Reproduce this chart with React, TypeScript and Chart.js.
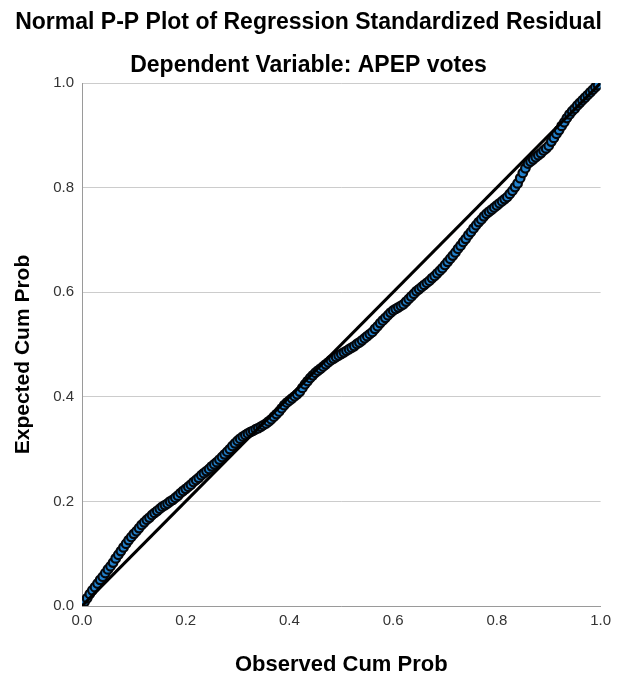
import React, { useEffect, useRef } from "react";
import { Chart, registerables } from "chart.js";

Chart.register(...registerables);

const chartTitle = "Normal P-P Plot of Regression Standardized Residual";
const chartSubtitle = "Dependent Variable: APEP votes";
const xAxisTitle = "Observed Cum Prob";
const yAxisTitle = "Expected Cum Prob";
const axisMin = 0;
const axisMax = 1;
const axisStep = 0.2;

const observedCumProb = [
  0.005, 0.010, 0.015, 0.020, 0.025, 0.030, 0.035, 0.040, 0.045, 0.050,
  0.055, 0.060, 0.065, 0.070, 0.075, 0.080, 0.085, 0.090, 0.095, 0.100,
  0.105, 0.110, 0.115, 0.120, 0.125, 0.130, 0.135, 0.140, 0.145, 0.150,
  0.155, 0.160, 0.165, 0.170, 0.175, 0.180, 0.185, 0.190, 0.195, 0.200,
  0.205, 0.210, 0.215, 0.220, 0.225, 0.230, 0.235, 0.240, 0.245, 0.250,
  0.255, 0.260, 0.265, 0.270, 0.275, 0.280, 0.285, 0.290, 0.295, 0.300,
  0.305, 0.310, 0.315, 0.320, 0.325, 0.330, 0.335, 0.340, 0.345, 0.350,
  0.355, 0.360, 0.365, 0.370, 0.375, 0.380, 0.385, 0.390, 0.395, 0.400,
  0.405, 0.410, 0.415, 0.420, 0.425, 0.430, 0.435, 0.440, 0.445, 0.450,
  0.455, 0.460, 0.465, 0.470, 0.475, 0.480, 0.485, 0.490, 0.495, 0.500,
  0.505, 0.510, 0.515, 0.520, 0.525, 0.530, 0.535, 0.540, 0.545, 0.550,
  0.555, 0.560, 0.565, 0.570, 0.575, 0.580, 0.585, 0.590, 0.595, 0.600,
  0.605, 0.610, 0.615, 0.620, 0.625, 0.630, 0.635, 0.640, 0.645, 0.650,
  0.655, 0.660, 0.665, 0.670, 0.675, 0.680, 0.685, 0.690, 0.695, 0.700,
  0.705, 0.710, 0.715, 0.720, 0.725, 0.730, 0.735, 0.740, 0.745, 0.750,
  0.755, 0.760, 0.765, 0.770, 0.775, 0.780, 0.785, 0.790, 0.795, 0.800,
  0.805, 0.810, 0.815, 0.820, 0.825, 0.830, 0.835, 0.840, 0.845, 0.850,
  0.855, 0.860, 0.865, 0.870, 0.875, 0.880, 0.885, 0.890, 0.895, 0.900,
  0.905, 0.910, 0.915, 0.920, 0.925, 0.930, 0.935, 0.940, 0.945, 0.950,
  0.955, 0.960, 0.965, 0.970, 0.975, 0.980, 0.985, 0.990, 0.995,
];

const expectedCumProb = [
  0.008, 0.015, 0.023, 0.030, 0.036, 0.043, 0.050, 0.056, 0.063, 0.070,
  0.076, 0.083, 0.091, 0.098, 0.105, 0.112, 0.119, 0.126, 0.132, 0.138,
  0.143, 0.149, 0.155, 0.160, 0.165, 0.169, 0.174, 0.178, 0.182, 0.186,
  0.190, 0.193, 0.196, 0.200, 0.203, 0.207, 0.211, 0.216, 0.220, 0.224,
  0.228, 0.232, 0.237, 0.241, 0.245, 0.250, 0.254, 0.258, 0.262, 0.267,
  0.271, 0.275, 0.280, 0.285, 0.290, 0.295, 0.300, 0.306, 0.311, 0.316,
  0.320, 0.324, 0.327, 0.330, 0.333, 0.335, 0.338, 0.340, 0.343, 0.346,
  0.349, 0.353, 0.357, 0.362, 0.367, 0.372, 0.378, 0.384, 0.389, 0.393,
  0.397, 0.401, 0.405, 0.410, 0.417, 0.424, 0.430, 0.436, 0.441, 0.446,
  0.450, 0.454, 0.458, 0.462, 0.466, 0.470, 0.473, 0.476, 0.479, 0.482,
  0.485, 0.488, 0.491, 0.494, 0.497, 0.501, 0.504, 0.508, 0.512, 0.516,
  0.520, 0.524, 0.530, 0.535, 0.541, 0.546, 0.551, 0.556, 0.561, 0.565,
  0.568, 0.571, 0.574, 0.577, 0.582, 0.587, 0.592, 0.597, 0.602, 0.606,
  0.610, 0.614, 0.618, 0.622, 0.627, 0.631, 0.636, 0.641, 0.646, 0.652,
  0.658, 0.664, 0.670, 0.676, 0.683, 0.689, 0.696, 0.702, 0.709, 0.715,
  0.722, 0.728, 0.734, 0.739, 0.745, 0.750, 0.754, 0.758, 0.762, 0.766,
  0.770, 0.774, 0.778, 0.782, 0.788, 0.794, 0.801, 0.808, 0.818, 0.828,
  0.837, 0.846, 0.850, 0.854, 0.858, 0.862, 0.866, 0.871, 0.875, 0.880,
  0.888, 0.895, 0.903, 0.910, 0.918, 0.925, 0.933, 0.940, 0.946, 0.951,
  0.957, 0.962, 0.967, 0.972, 0.977, 0.982, 0.987, 0.992, 0.996,
];

const referenceLineX = [0, 1];
const referenceLineY = [0, 1];

const FONT = "'Liberation Sans', Arial, Helvetica, sans-serif";

const textPlugin = {
  id: "ppTexts",
  afterDraw(chart: any) {
    const { ctx, chartArea } = chart;
    ctx.save();
    ctx.fillStyle = "#000";
    ctx.textAlign = "center";
    ctx.textBaseline = "alphabetic";
    ctx.font = `bold 23px ${FONT}`;
    ctx.fillText(chartTitle, chart.width / 2, 29);
    ctx.fillText(chartSubtitle, chart.width / 2, 72);
    ctx.font = `bold 22px ${FONT}`;
    ctx.fillText(xAxisTitle, (chartArea.left + chartArea.right) / 2, 671);
    ctx.font = `bold 21px ${FONT}`;
    ctx.translate(29, (chartArea.top + chartArea.bottom) / 2 + 10);
    ctx.rotate(-Math.PI / 2);
    ctx.fillText(yAxisTitle, 0, 0);
    ctx.restore();
  },
};

export default function App() {
  const canvasRef = useRef<HTMLCanvasElement | null>(null);

  useEffect(() => {
    if (!canvasRef.current) return;
    const points = observedCumProb.map((x, i) => ({ x, y: expectedCumProb[i] }));
    const line = referenceLineX.map((x, i) => ({ x, y: referenceLineY[i] }));
    const tickFmt = (v: any) => Number(v).toFixed(1);
    const chart = new Chart(canvasRef.current, {
      type: "scatter",
      data: {
        datasets: [
          {
            type: "line",
            data: line,
            borderColor: "#000",
            borderWidth: 3,
            pointRadius: 0,
            fill: false,
            order: 0,
          } as any,
          {
            type: "scatter",
            data: points,
            backgroundColor: "rgb(35,130,205)",
            borderColor: "#05080c",
            borderWidth: 2.2,
            pointRadius: 4.3,
            order: 1,
          } as any,
        ],
      },
      options: {
        animation: false,
        responsive: false,
        maintainAspectRatio: false,
        layout: { padding: { top: 83, right: 13, bottom: 0, left: 0 } },
        plugins: {
          legend: { display: false },
          tooltip: { enabled: false },
          title: { display: false },
        },
        scales: {
          x: {
            type: "linear",
            min: axisMin,
            max: axisMax,
            grid: { display: false, drawTicks: false },
            border: { display: true, color: "#9a9a9a", width: 1 },
            ticks: {
              stepSize: axisStep,
              callback: tickFmt,
              color: "#333",
              padding: 6,
              maxRotation: 0,
              font: { family: FONT, size: 15 },
            },
            afterFit: (scale: any) => {
              scale.height = 71;
            },
          },
          y: {
            type: "linear",
            min: axisMin,
            max: axisMax,
            grid: { color: "#cccccc", lineWidth: 1, drawTicks: false },
            border: { display: true, color: "#9a9a9a", width: 1 },
            ticks: {
              stepSize: axisStep,
              callback: tickFmt,
              color: "#333",
              padding: 8,
              font: { family: FONT, size: 15 },
            },
            afterFit: (scale: any) => {
              scale.width = 82;
            },
          },
        },
      },
      plugins: [textPlugin],
    });
    return () => chart.destroy();
  }, []);

  return (
    <div style={{ position: "fixed", left: 0, top: 0, width: 617, height: 677, background: "#fff" }}>
      <canvas ref={canvasRef} width={617} height={677} style={{ display: "block" }} />
    </div>
  );
}
